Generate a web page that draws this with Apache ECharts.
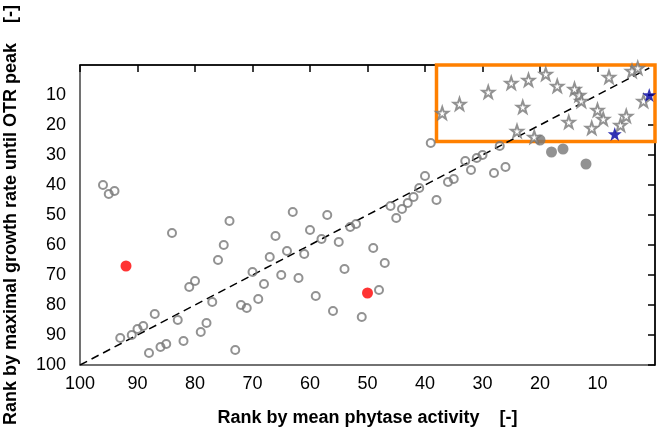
<!DOCTYPE html>
<html>
<head>
<meta charset="utf-8">
<script src="https://cdn.jsdelivr.net/npm/echarts@6/dist/echarts.min.js"></script>
<style>
  html, body { margin: 0; padding: 0; background: #fff; }
  #chart { width: 669px; height: 434px; }
</style>
</head>
<body>
<div id="chart"></div>
<script>
// [rank by phytase activity, rank by growth rate]
const openCircles = [
  [96, 40], [95, 43], [94, 42], [93, 91], [91, 90], [90, 88], [89, 87], [88, 96],
  [87, 83], [86, 94], [85, 93], [84, 56], [83, 85], [82, 92], [81, 74], [80, 72],
  [79, 89], [78, 86], [77, 79], [76, 65], [75, 60], [74, 52], [73, 95], [72, 80],
  [71, 81], [70, 69], [69, 78], [68, 73], [67, 64], [66, 57], [65, 70], [64, 62],
  [63, 49], [62, 71], [61, 63], [60, 55], [59, 77], [58, 58], [57, 50], [56, 82],
  [55, 59], [54, 68], [53, 54], [52, 53], [51, 84], [49, 61], [48, 75], [47, 66],
  [46, 47], [45, 51], [44, 48], [43, 46], [42, 44], [41, 41], [40, 37], [39, 26],
  [38, 45], [36, 39], [35, 38], [33, 32], [32, 35], [31, 31], [30, 30], [28, 36],
  [27, 27], [26, 34]
];
const filledGray = [[20, 25], [18, 29], [16, 28], [12, 33]];
const redPoints = [[92, 67], [50, 76]];
const openStars = [
  [37, 16], [34, 13], [29, 9], [25, 6], [24, 22], [23, 14], [22, 5], [21, 24],
  [19, 3], [17, 7], [15, 19], [14, 8], [13.2, 10], [12.8, 12], [11, 21], [10, 15],
  [9, 18], [8, 4], [6, 20], [5, 17], [4, 2], [3, 1], [2, 12]
];
const blueStars = [[7, 23], [1, 10]];
const diagonal = [[100, 100], [1, 1]];
// highlighted box corners (data units)
const boxFrom = [38, -0.5];
const boxTo = [-1, 25.5];

const xTitle = 'Rank by mean phytase activity    [-]';
const yTitle = 'Rank by maximal growth rate until OTR peak    [-]';

const star = 'path://M0,-10 L2.35,-3.24 L9.51,-3.09 L3.8,1.24 L5.88,8.09 L0,4 L-5.88,8.09 L-3.8,1.24 L-9.51,-3.09 L-2.35,-3.24 Z';
const grey = '#777777';
const font = 'Liberation Sans';

const chart = echarts.init(document.getElementById('chart'));

const option = {
  animation: false,
  grid: {
    left: 80, right: 14, top: 65, bottom: 69,
    outerBoundsMode: 'none',
    containLabel: false,
    show: true,
    borderColor: '#444',
    borderWidth: 1.5
  },
  xAxis: {
    type: 'value',
    inverse: true,
    min: 0, max: 100, interval: 10,
    name: xTitle,
    nameLocation: 'middle',
    nameGap: 44,
    nameTextStyle: { fontFamily: font, fontSize: 18, fontWeight: 'bold', color: '#000' },
    axisLine: { show: true, lineStyle: { color: '#000', width: 1.5 } },
    axisTick: { show: true, inside: false, length: 7, lineStyle: { color: '#000', width: 1.5 } },
    axisLabel: {
      margin: 10, fontFamily: font, fontSize: 18, color: '#000',
      formatter: v => (v === 0 ? '' : v)
    },
    splitLine: { show: false }
  },
  yAxis: {
    type: 'value',
    inverse: true,
    min: 0, max: 100, interval: 10,
    name: yTitle,
    nameLocation: 'middle',
    nameRotate: 90,
    nameGap: 60,
    nameTextStyle: { fontFamily: font, fontSize: 18, fontWeight: 'bold', color: '#000' },
    axisLine: { show: true, lineStyle: { color: '#000', width: 1.5 } },
    axisTick: { show: true, inside: false, length: 7, lineStyle: { color: '#000', width: 1.5 } },
    axisLabel: {
      margin: 14, fontFamily: font, fontSize: 18, color: '#000',
      formatter: v => (v === 0 ? '' : v)
    },
    splitLine: { show: false }
  },
  series: [
    {
      type: 'line',
      data: diagonal,
      symbol: 'none',
      z: 1,
      lineStyle: { color: '#000', width: 1.5, type: [8, 5] }
    },
    {
      type: 'scatter',
      data: openCircles,
      symbol: 'circle',
      symbolSize: 8,
      z: 2,
      itemStyle: { color: 'rgba(0,0,0,0)', borderColor: grey, borderWidth: 2 }
    },
    {
      type: 'scatter',
      data: filledGray,
      symbol: 'circle',
      symbolSize: 11,
      z: 2,
      itemStyle: { color: grey }
    },
    {
      type: 'scatter',
      data: redPoints,
      symbol: 'circle',
      symbolSize: 11,
      z: 2,
      itemStyle: { color: '#ff0000' }
    },
    {
      type: 'scatter',
      data: openStars,
      symbol: star,
      symbolSize: 12,
      z: 3,
      itemStyle: { color: '#fff', borderColor: grey, borderWidth: 2 }
    },
    {
      type: 'scatter',
      data: blueStars,
      symbol: star,
      symbolSize: 14,
      z: 4,
      itemStyle: { color: '#0000a0' },
      markArea: {
        silent: true,
        itemStyle: { color: 'rgba(0,0,0,0)', borderColor: '#ff8000', borderWidth: 3.5 },
        data: [[{ coord: boxFrom }, { coord: boxTo }]]
      }
    }
  ]
};

chart.setOption(option);
</script>
</body>
</html>
